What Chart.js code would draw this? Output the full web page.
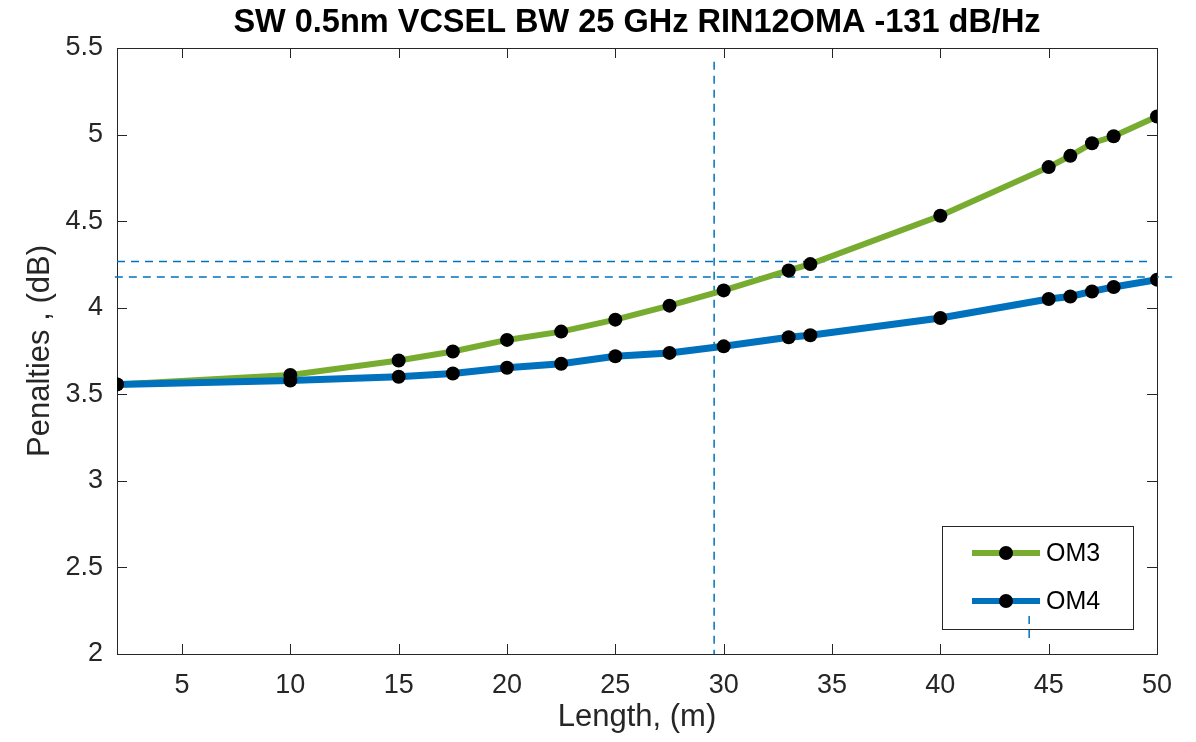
<!DOCTYPE html>
<html><head><meta charset="utf-8">
<script src="https://cdn.jsdelivr.net/npm/chart.js@4/dist/chart.umd.min.js"></script>
<style>html,body{margin:0;padding:0;background:#fff}#wrap{width:1196px;height:742px;position:relative}</style>
</head><body><div id="wrap"><canvas id="c" width="1196" height="742"></canvas></div>
<script>
// ---- data ----
const lengths = [2, 10, 15, 17.5, 20, 22.5, 25, 27.5, 30, 33, 34, 40, 45, 46, 47, 48, 50];
const om3 = [3.557, 3.612, 3.695, 3.747, 3.814, 3.862, 3.931, 4.012, 4.100, 4.215, 4.252, 4.531, 4.812, 4.877, 4.950, 4.990, 5.104];
const om4 = [3.557, 3.580, 3.601, 3.620, 3.653, 3.676, 3.720, 3.739, 3.777, 3.829, 3.841, 3.941, 4.050, 4.065, 4.094, 4.120, 4.162];
const seriesNames = ['OM3', 'OM4'];
const xTicks = [5, 10, 15, 20, 25, 30, 35, 40, 45, 50];
const yTicks = [2, 2.5, 3, 3.5, 4, 4.5, 5, 5.5];
const yTickLabels = ['2', '2.5', '3', '3.5', '4', '4.5', '5', '5.5'];
const vLineX = [29.56, 29.56], vLineY = [5.42, 2];
const hLine1X = [2, 49.8], hLine1Y = [4.267, 4.267];
const hLine2X = [1.9, 50.7], hLine2Y = [4.177, 4.177];
const vLine2X = [44.1, 44.1], vLine2Y = [2.219, 2.092];
const titleText = 'SW 0.5nm VCSEL BW 25 GHz RIN12OMA -131 dB/Hz';
const xTitle = 'Length, (m)';
const yTitle = 'Penalties , (dB)';

const pts = (xs, ys) => xs.map((x, i) => ({x: x, y: ys[i]}));
const AX = '#262626';
const FONT = 'Liberation Sans, Arial, Helvetica, sans-serif';

const dashed = (xs, ys, clip) => ({
  label: '', data: pts(xs, ys), borderColor: '#0072BD', borderWidth: 1.5,
  borderDash: [8, 6], pointRadius: 0, showLine: true, clip: clip, order: 5
});

const framePlugin = {
  id: 'frame',
  beforeDatasetsDraw(chart) {
    const {ctx, chartArea: a, scales: {x, y}} = chart;
    ctx.save();
    // title centred over the plot area
    ctx.fillStyle = '#000';
    ctx.font = 'bold 32.5px ' + FONT;
    ctx.textAlign = 'center'; ctx.textBaseline = 'middle';
    ctx.fillText(titleText, (a.left + a.right) / 2, 23);

    ctx.strokeStyle = AX; ctx.lineWidth = 1;
    ctx.strokeRect(Math.round(a.left) + 0.5, Math.round(a.top) + 0.5, Math.round(a.right - a.left), Math.round(a.bottom - a.top));
    ctx.beginPath();
    const TL = 10;
    xTicks.forEach(v => {
      const px = Math.round(x.getPixelForValue(v)) + 0.5;
      ctx.moveTo(px, a.bottom); ctx.lineTo(px, a.bottom - TL);
      ctx.moveTo(px, a.top); ctx.lineTo(px, a.top + TL);
    });
    yTicks.forEach(v => {
      const py = Math.round(y.getPixelForValue(v)) + 0.5;
      ctx.moveTo(a.left, py); ctx.lineTo(a.left + TL, py);
      ctx.moveTo(a.right, py); ctx.lineTo(a.right - TL, py);
    });
    ctx.stroke();
    // legend box
    const lx = 942, ly = 526, lw = 191, lh = 103;
    ctx.fillStyle = '#fff';
    ctx.fillRect(lx, ly, lw, lh);
    ctx.strokeStyle = AX; ctx.lineWidth = 1;
    ctx.strokeRect(lx + 0.5, ly + 0.5, lw, lh);
    const rows = [553, 601];
    seriesNames.forEach((name, i) => {
      const ds = chart.data.datasets.find(d => d.label === name);
      const cy = rows[i];
      ctx.strokeStyle = ds.borderColor; ctx.lineWidth = 6;
      ctx.beginPath(); ctx.moveTo(972, cy); ctx.lineTo(1040, cy); ctx.stroke();
      ctx.fillStyle = '#000';
      ctx.beginPath(); ctx.arc(1006, cy, 7, 0, Math.PI * 2); ctx.fill();
      ctx.fillStyle = '#000'; ctx.font = '25px ' + FONT;
      ctx.textBaseline = 'middle'; ctx.textAlign = 'left';
      ctx.fillText(ds.label, 1046, cy + 1);
    });
    ctx.restore();
  }
};

new Chart(document.getElementById('c'), {
  type: 'scatter',
  data: {
    datasets: [
      {label: seriesNames[1], data: pts(lengths, om4), showLine: true, borderColor: '#0072BD', borderWidth: 7,
        pointRadius: 7, pointBackgroundColor: '#000', pointBorderWidth: 0, pointHoverRadius: 7, order: 1, tension: 0},
      {label: seriesNames[0], data: pts(lengths, om3), showLine: true, borderColor: '#77AC30', borderWidth: 6,
        pointRadius: 7, pointBackgroundColor: '#000', pointBorderWidth: 0, pointHoverRadius: 7, order: 2, tension: 0},
      dashed(vLineX, vLineY, false),
      dashed(hLine1X, hLine1Y, false),
      dashed(hLine2X, hLine2Y, false),
      dashed(vLine2X, vLine2Y, false)
    ]
  },
  options: {
    responsive: false, animation: false, devicePixelRatio: 1,
    layout: {padding: {left: 0, right: 39, top: 48, bottom: 0}},
    plugins: {
      legend: {display: false}, tooltip: {enabled: false}, title: {display: false}
    },
    scales: {
      x: {
        type: 'linear', min: 2, max: 50,
        afterBuildTicks: s => { s.ticks = xTicks.map(v => ({value: v})); },
        afterFit: s => { s.height = 88; },
        grid: {display: false, drawTicks: false}, border: {display: false},
        ticks: {color: AX, padding: 15, font: {family: FONT, size: 27}, callback: v => String(v)},
        title: {display: true, text: xTitle, color: AX, font: {family: FONT, size: 31}, padding: {top: 0, bottom: 6}}
      },
      y: {
        type: 'linear', min: 2, max: 5.5,
        afterBuildTicks: s => { s.ticks = yTicks.map(v => ({value: v})); },
        afterFit: s => { s.width = 117; },
        grid: {display: false, drawTicks: false}, border: {display: false},
        ticks: {color: AX, padding: 14, font: {family: FONT, size: 27},
          callback: v => yTickLabels[yTicks.indexOf(v)]},
        title: {display: true, text: yTitle, color: AX, font: {family: FONT, size: 31}, padding: {top: 22, bottom: 0}}
      }
    }
  },
  plugins: [framePlugin]
});
</script>
</body></html>
